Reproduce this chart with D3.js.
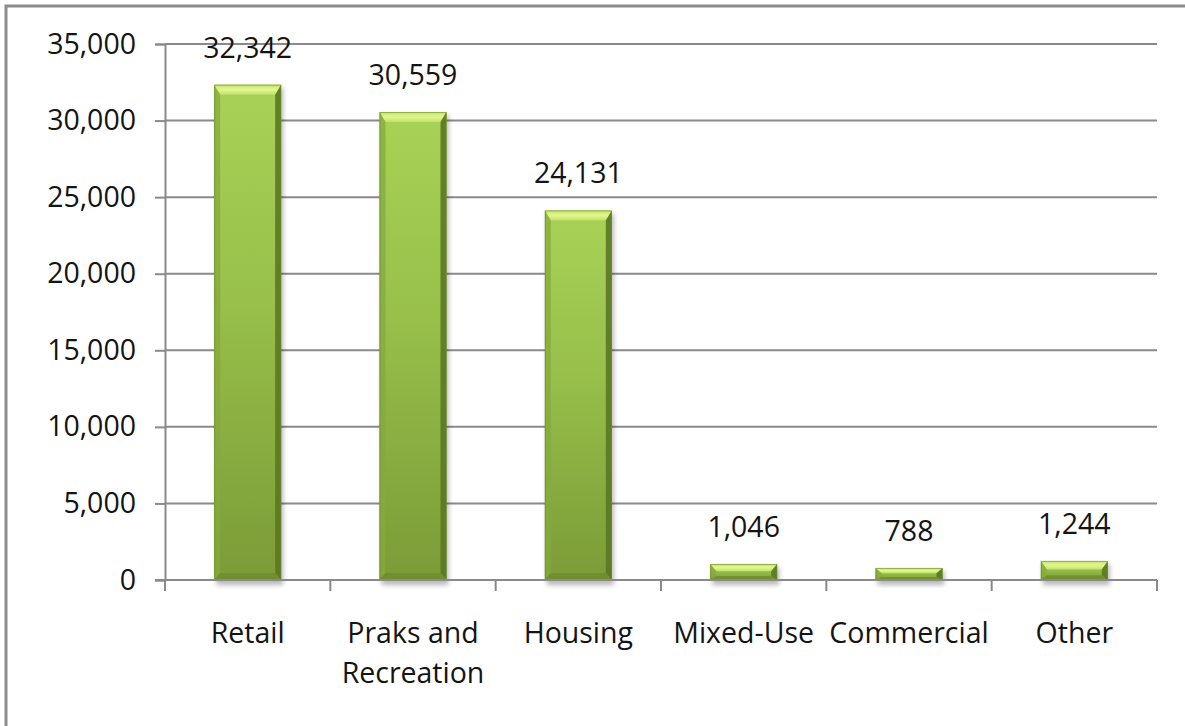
<!DOCTYPE html>
<html>
<head>
<meta charset="utf-8">
<script src="https://cdn.jsdelivr.net/npm/d3@7"></script>
<style>
  html, body { margin: 0; padding: 0; background: #fff; }
  svg { display: block; }
  text { font-family: "Open Sans", "DejaVu Sans", sans-serif; fill: #141414; }
</style>
</head>
<body>
<svg id="chart" width="1185" height="726"></svg>
<script>
// Land use categories and their totals
const categories = ["Retail", "Praks and Recreation", "Housing", "Mixed-Use", "Commercial", "Other"];
const categoryLines = [["Retail"], ["Praks and", "Recreation"], ["Housing"], ["Mixed-Use"], ["Commercial"], ["Other"]];
const values = [32342, 30559, 24131, 1046, 788, 1244];
const yTicks = [0, 5000, 10000, 15000, 20000, 25000, 30000, 35000];

const W = 1185, H = 726;
const plot = { left: 165, right: 1157, top: 44, bottom: 580 };
const fmt = d3.format(",");
const gridColor = "#8a8a8a";
const fontSize = "28.5px";

const svg = d3.select("#chart");
const defs = svg.append("defs");

// Bar body gradient: light green at top, deeper olive at bottom
const body = defs.append("linearGradient").attr("id", "barBody")
  .attr("x1", 0).attr("y1", 0).attr("x2", 0).attr("y2", 1);
body.append("stop").attr("offset", "0%").attr("stop-color", "#a8d257");
body.append("stop").attr("offset", "45%").attr("stop-color", "#97bf4a");
body.append("stop").attr("offset", "100%").attr("stop-color", "#7b9b37");

// Top bevel highlight
const topBevel = defs.append("linearGradient").attr("id", "topBevel")
  .attr("x1", 0).attr("y1", 0).attr("x2", 0).attr("y2", 1);
topBevel.append("stop").attr("offset", "0%").attr("stop-color", "#c6e46c");
topBevel.append("stop").attr("offset", "50%").attr("stop-color", "#e2f78e");
topBevel.append("stop").attr("offset", "100%").attr("stop-color", "#bfe06a");

const shadow = defs.append("filter").attr("id", "shadow")
  .attr("x", "-20%").attr("y", "-20%").attr("width", "140%").attr("height", "140%");
shadow.append("feGaussianBlur").attr("stdDeviation", 2.5);

// Outer frame
svg.append("rect")
  .attr("x", 6).attr("y", 6).attr("width", W + 10).attr("height", H + 10)
  .attr("fill", "none").attr("stroke", "#8c8c8c").attr("stroke-width", 3);

const x = d3.scaleBand()
  .domain(categories)
  .range([plot.left, plot.right])
  .paddingInner(0.595)
  .paddingOuter(0.2975);

const y = d3.scaleLinear().domain([0, 35000]).range([plot.bottom, plot.top]);

// Horizontal gridlines
svg.append("g").selectAll("line").data(yTicks.filter(d => d > 0)).join("line")
  .attr("x1", plot.left).attr("x2", plot.right)
  .attr("y1", d => y(d)).attr("y2", d => y(d))
  .attr("stroke", gridColor).attr("stroke-width", 2);

// Y axis
const yAxis = svg.append("g")
  .attr("transform", `translate(${plot.left},0)`)
  .call(d3.axisLeft(y).tickValues(yTicks).tickFormat(fmt).tickSize(10).tickPadding(19));
yAxis.select(".domain").attr("stroke", gridColor).attr("stroke-width", 2);
yAxis.selectAll(".tick line").attr("stroke", gridColor).attr("stroke-width", 2);
yAxis.selectAll(".tick text")
  .style("font-family", "'Open Sans', sans-serif").style("font-size", fontSize).attr("fill", "#141414");

// Bars with bevelled edges
const bars = svg.append("g").selectAll("g").data(values).join("g");
bars.each(function (v, i) {
  const g = d3.select(this);
  const x0 = x(categories[i]), bw = x.bandwidth();
  const top = y(v), bot = y(0), h = bot - top;
  const bt = Math.min(10, h * 0.45), bs = Math.min(6, bw * 0.1), bb = Math.min(7, h * 0.25);

  g.append("rect")
    .attr("x", x0 + 2).attr("y", top + 3).attr("width", bw).attr("height", h + 2)
    .attr("fill", "#000").attr("opacity", 0.28).attr("filter", "url(#shadow)");
  g.append("rect")
    .attr("x", x0).attr("y", top).attr("width", bw).attr("height", h)
    .attr("fill", "url(#barBody)");
  // top bevel
  g.append("path")
    .attr("d", `M${x0},${top}H${x0 + bw}L${x0 + bw - bs},${top + bt}H${x0 + bs}Z`)
    .attr("fill", "url(#topBevel)");
  // left bevel
  g.append("path")
    .attr("d", `M${x0},${top}L${x0 + bs},${top + bt}V${bot - bb}L${x0},${bot}Z`)
    .attr("fill", "#86aa3c").attr("opacity", 0.75);
  // right bevel
  g.append("path")
    .attr("d", `M${x0 + bw},${top}L${x0 + bw - bs},${top + bt}V${bot - bb}L${x0 + bw},${bot}Z`)
    .attr("fill", "#5a7822").attr("opacity", 0.9);
  // bottom bevel
  g.append("path")
    .attr("d", `M${x0},${bot}L${x0 + bs},${bot - bb}H${x0 + bw - bs}L${x0 + bw},${bot}Z`)
    .attr("fill", "#6f8d2f").attr("opacity", 0.85);
  // thin outline
  g.append("rect")
    .attr("x", x0 + 0.5).attr("y", top + 0.5).attr("width", bw - 1).attr("height", h - 1)
    .attr("fill", "none").attr("stroke", "#6a8a2a").attr("stroke-width", 1).attr("opacity", 0.6);
});

// Category axis line and boundary ticks
svg.append("line")
  .attr("x1", plot.left - 10).attr("x2", plot.right)
  .attr("y1", plot.bottom).attr("y2", plot.bottom)
  .attr("stroke", gridColor).attr("stroke-width", 2);
const step = x.step();
svg.append("g").selectAll("line").data(d3.range(categories.length + 1)).join("line")
  .attr("x1", i => plot.left + i * step).attr("x2", i => plot.left + i * step)
  .attr("y1", plot.bottom).attr("y2", plot.bottom + 11)
  .attr("stroke", gridColor).attr("stroke-width", 2);

// Value labels
svg.append("g").selectAll("text").data(values).join("text")
  .attr("x", (v, i) => x(categories[i]) + x.bandwidth() / 2)
  .attr("y", v => y(v) - 27)
  .attr("text-anchor", "middle")
  .style("font-size", fontSize)
  .text(v => fmt(v));

// Category labels
const cl = svg.append("g").selectAll("text").data(categoryLines).join("text")
  .attr("x", (d, i) => x(categories[i]) + x.bandwidth() / 2)
  .attr("y", 643)
  .attr("text-anchor", "middle")
  .style("font-size", fontSize);
cl.selectAll("tspan").data(d => d).join("tspan")
  .attr("x", function () { return d3.select(this.parentNode).attr("x"); })
  .attr("dy", (d, j) => j === 0 ? 0 : 40)
  .text(d => d);
</script>
</body>
</html>
